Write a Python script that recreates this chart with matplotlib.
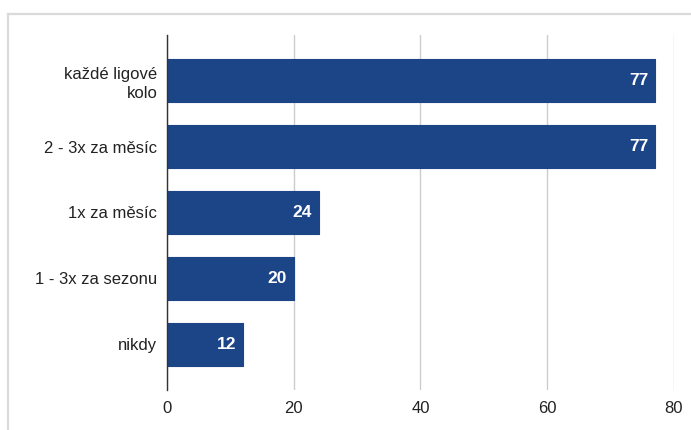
import matplotlib
matplotlib.use("Agg")
import matplotlib.pyplot as plt

categories = ["každé ligové\nkolo", "2 - 3x za měsíc", "1x za měsíc", "1 - 3x za sezonu", "nikdy"]
values = [77, 77, 24, 20, 12]
xticks = [0, 20, 40, 60, 80]

plt.rcParams['font.family'] = ['Liberation Sans', 'DejaVu Sans']

W, H = 691, 430
fig = plt.figure(figsize=(W / 100, H / 100), dpi=100)
fig.patch.set_facecolor("white")

# outer border (top and left visible)
fig.add_artist(plt.Line2D([8 / W, 1], [1 - 14 / H, 1 - 14 / H], color="#dadada", lw=1.6, transform=fig.transFigure))
fig.add_artist(plt.Line2D([8 / W, 8 / W], [0, 1 - 14 / H], color="#dadada", lw=1.6, transform=fig.transFigure))

left, right, top, bottom = 167, 674, 35, 390
ax = fig.add_axes([left / W, 1 - bottom / H, (right - left) / W, (bottom - top) / H])

color = "#1c4587"
y = list(range(len(categories)))
ax.barh(y, values, height=0.64, color=color, edgecolor=color, linewidth=0.8, joinstyle="round", zorder=3)

for yi, v in zip(y, values):
    ax.annotate(str(v), xy=(v, yi), xytext=(-5, 0), textcoords="offset points",
                ha="right", va="center", color="white", fontsize=12.5, fontweight="bold", zorder=4)

ax.set_xlim(0, 80)
ax.set_ylim(4.69, -0.69)
ax.set_xticks(xticks)
ax.set_xticklabels([str(t) for t in xticks])
ax.set_yticks(y)
ax.set_yticklabels(categories, linespacing=1.3)

ax.grid(axis="x", color="#cccccc", linewidth=1, zorder=0)
ax.set_axisbelow(True)
for s in ["top", "right", "bottom"]:
    ax.spines[s].set_visible(False)
ax.spines["left"].set_color("#333333")
ax.spines["left"].set_linewidth(1)
ax.spines["left"].set_zorder(5)

ax.tick_params(axis="both", length=0, labelsize=12, colors="#222222")
ax.tick_params(axis="y", pad=7)
ax.tick_params(axis="x", pad=8)

fig.savefig("out.png", dpi=100)
